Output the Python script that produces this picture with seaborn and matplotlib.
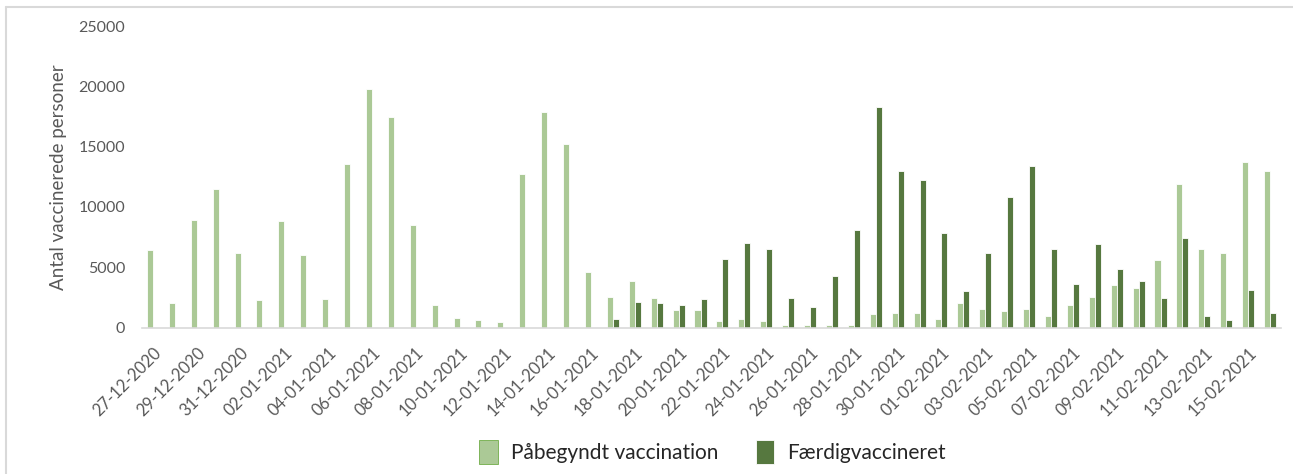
import pandas as pd
import matplotlib.pyplot as plt
from matplotlib.lines import Line2D
import seaborn as sns

# datoer 27-12-2020 .. 16-02-2021
dates = pd.date_range("2020-12-27", "2021-02-16", freq="D").strftime("%d-%m-%Y").tolist()

paabegyndt = [6400, 2000, 8900, 11500, 6200, 2300, 8800, 6000, 2400, 13600,
              19800, 17500, 8500, 1900, 780, 620, 470, 12700, 17900, 15200,
              4600, 2550, 3850, 2450, 1450, 1450, 580, 700, 540, 200,
              200, 200, 200, 1100, 1200, 1200, 700, 2000, 1500, 1350,
              1500, 950, 1850, 2500, 3500, 3250, 5600, 11900, 6500, 6150,
              13750, 12950]
faerdig = [0, 0, 0, 0, 0, 0, 0, 0, 0, 0,
           0, 0, 0, 0, 0, 0, 0, 0, 0, 0,
           0, 700, 2100, 2000, 1850, 2350, 5650, 7050, 6550, 2450,
           1700, 4300, 8050, 18300, 13000, 12250, 7800, 3000, 6150, 10850,
           13400, 6550, 3600, 6950, 4850, 3850, 2450, 7450, 950, 600,
           3100, 1200]

series_names = ["Påbegyndt vaccination", "Færdigvaccineret"]
colors = ["#A9D18E", "#548235"]

df = pd.DataFrame({
    "dato": dates * 2,
    "antal": paabegyndt + faerdig,
    "serie": [series_names[0]] * len(dates) + [series_names[1]] * len(dates),
})

sns.set_style("white")
plt.rcParams["font.family"] = ["Lato", "DejaVu Sans"]

fig = plt.figure(figsize=(12.93, 4.74), dpi=100)
ax = fig.add_axes([0.1098, 0.309, 0.8809, 0.636])

sns.barplot(data=df, x="dato", y="antal", hue="serie", palette=colors,
            width=0.55, gap=0, edgecolor="white", linewidth=0.6, ax=ax)

ax.set_xlim(-0.5, len(dates) - 0.5)
ax.set_ylim(0, 25000)
ax.set_yticks(range(0, 25001, 5000))
ax.tick_params(axis="y", length=0, pad=12, labelsize=11.5, labelcolor="#595959")

ax.set_xticks(range(0, len(dates), 2))
ax.set_xticklabels(dates[::2], rotation=45, ha="right", rotation_mode="anchor",
                   fontsize=12, color="#595959")
ax.tick_params(axis="x", length=0, pad=12)

ax.set_xlabel("")
ax.set_ylabel("Antal vaccinerede personer", fontsize=13.5, color="#595959")
ax.yaxis.set_label_coords(-0.066, 0.5)

for s in ["top", "right", "left"]:
    ax.spines[s].set_visible(False)
ax.spines["bottom"].set_color("#D9D9D9")
ax.spines["bottom"].set_linewidth(1.2)

handles, labels = ax.get_legend_handles_labels()
handles[0].set_edgecolor("#70AD47")
ax.legend_.remove()
leg = fig.legend(handles, labels, loc="center", bbox_to_anchor=(0.551, 0.047),
                 ncol=2, frameon=False, fontsize=15, handlelength=0.9,
                 handleheight=1.4, columnspacing=1.8, handletextpad=0.6)
for t in leg.get_texts():
    t.set_color("#262626")

# kant øverst og til venstre
fig.add_artist(Line2D([6 / 1293, 1], [1 - 7 / 474, 1 - 7 / 474],
                      transform=fig.transFigure, color="#D9D9D9", lw=1.5))
fig.add_artist(Line2D([6 / 1293, 6 / 1293], [0, 1 - 7 / 474],
                      transform=fig.transFigure, color="#D9D9D9", lw=1.5))

fig.savefig("out.png", dpi=100)
plt.close(fig)
